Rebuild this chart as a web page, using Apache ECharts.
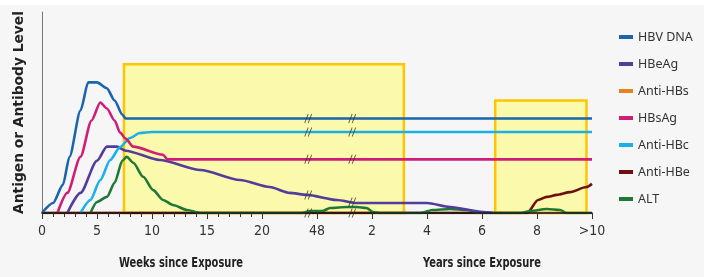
<!DOCTYPE html>
<html>
<head>
<meta charset="utf-8">
<script src="https://cdn.jsdelivr.net/npm/echarts@6/dist/echarts.min.js"></script>
<style>
  html, body { margin: 0; padding: 0; background: #f6f6f6; }
  #chart { width: 704px; height: 277px; }
</style>
</head>
<body>
<div id="chart"></div>
<script>
// x is in axis units: 0-20 = weeks, then one major step (5 units) per label
const tickLabels = ['0', '5', '10', '15', '20', '48', '2', '4', '6', '8', '>10']
const minorTicks = [1, 2, 3, 4, 6, 7, 8, 9, 11, 12, 13, 14, 16, 17, 18, 19]

// [x, level]
const hbvDna = [[0, 0], [1, 5], [1.9, 14], [2.5, 28], [3.5, 51], [4.2, 65], [5, 65], [5.9, 62], [6.6, 56], [7.3, 49], [7.6, 47], [50, 47]]
const hbeAg = [[2.3, 0], [3.5, 10], [5, 26], [5.9, 33], [6.8, 33], [7.6, 31], [10.7, 26.4], [14.4, 21.4], [18, 16.4], [20.7, 12.9], [22.5, 10], [24.1, 9], [26.8, 6.5], [28.6, 5], [35, 5], [37.1, 3], [40.1, 0.5], [41, 0]]
const antiHBs = [[0, 0], [50, 0]]
const hbsAg = [[1.4, 0], [2.3, 10], [3.5, 28], [4.5, 46], [5.3, 55], [5.9, 52], [6.6, 46], [7.1, 40], [7.6, 37], [8.3, 33], [11, 29], [11.4, 26.7], [50, 26.7]]
const antiHBc = [[3.5, 0], [4.4, 6.5], [5.3, 16.4], [6.2, 26.4], [7.1, 32.8], [8, 37.3], [8.9, 39.8], [10, 40.3], [50, 40.3]]
const antiHBe = [[0, 0], [44.1, 0], [45.1, 6.5], [45.9, 8], [46.8, 9], [48, 10.4], [49.5, 12.9], [50, 14.5]]
const alt = [[4.4, 0], [5, 5.5], [5.9, 8], [6.6, 15], [7.3, 26], [7.7, 28], [8.3, 25], [9.2, 18], [10.1, 11.4], [11, 6.5], [11.9, 4], [13.2, 1.5], [14.4, 0],
  [23.6, 0], [24.4, 1], [25.5, 1], [26.2, 2.5], [27.7, 3], [28.6, 3], [29.5, 2.5], [30.1, 0.5], [30.7, 0],
  [34.4, 0], [35.5, 1.5], [37.1, 2], [38.6, 1.5], [39.8, 0], [43.5, 0], [44.4, 1], [45.9, 2], [47.1, 1.5], [47.7, 0], [50, 0]]

// highlighted periods: [xFrom, xTo, top level]
const boxes = [[7.45, 32.9, 74], [41.2, 49.5, 56]]
// axis breaks drawn across the lines
const breakMarks = [[24.2, 47], [24.2, 40.3], [24.2, 26.7], [24.2, 9], [24.2, 0], [28.2, 47], [28.2, 40.3], [28.2, 26.7], [28.2, 5.5], [28.2, 0]]

const chart = echarts.init(document.getElementById('chart'))

function lineSeries(name, data, color) {
  return {
    name: name,
    type: 'line',
    data: data,
    showSymbol: false,
    smooth: 0.25,
    smoothMonotone: 'x',
    z: 2,
    lineStyle: { color: color, width: 2.6 },
    itemStyle: { color: color }
  }
}

const condensed = '"DejaVu Sans Condensed", "Liberation Sans", sans-serif'
const axisTitle = { fontFamily: condensed, fontWeight: 'bold', fontSize: 14.5, fill: '#222' }

chart.setOption({
  backgroundColor: '#f6f6f6',
  animation: false,
  grid: { left: 42, right: 112, top: 12, bottom: 64 },
  legend: {
    orient: 'vertical',
    left: 614,
    top: 25,
    icon: 'rect',
    itemWidth: 14,
    itemHeight: 4,
    itemGap: 13,
    textStyle: { fontFamily: 'Noto Sans', fontSize: 12.5, color: '#333', lineHeight: 14 },
    data: ['HBV DNA', 'HBeAg', 'Anti-HBs', 'HBsAg', 'Anti-HBc', 'Anti-HBe', 'ALT']
  },
  xAxis: [{
    type: 'value',
    min: 0,
    max: 50,
    interval: 5,
    z: 5,
    splitLine: { show: false },
    axisLine: { lineStyle: { color: '#1a1a1a', width: 1.5 } },
    axisTick: { length: 6, lineStyle: { color: '#333' } },
    axisLabel: {
      margin: 11,
      fontFamily: condensed,
      fontSize: 14,
      color: '#333',
      formatter: v => tickLabels[Math.round(v / 5)]
    }
  }, {
    type: 'value',
    position: 'bottom',
    min: 0,
    max: 50,
    z: 5,
    splitLine: { show: false },
    axisLine: { show: false },
    axisLabel: { show: false },
    axisTick: { length: 4, customValues: minorTicks, lineStyle: { color: '#333' } }
  }],
  yAxis: {
    type: 'value',
    min: 0,
    max: 100,
    name: 'Antigen or Antibody Level',
    nameLocation: 'middle',
    nameGap: 16,
    nameRotate: 90,
    nameTextStyle: { fontFamily: 'DejaVu Sans', fontWeight: 'bold', fontSize: 13.8, color: '#222' },
    splitLine: { show: false },
    axisLine: { show: true, lineStyle: { color: '#777', width: 1 } },
    axisTick: { show: false },
    axisLabel: { show: false }
  },
  graphic: [
    { type: 'rect', shape: { x: 0, y: 0, width: 704, height: 5 }, style: { fill: '#fff' } },
    // titles are squeezed horizontally to look like the condensed face of the original
    { type: 'text', x: 119, y: 256, scaleX: 0.76, style: Object.assign({ text: 'Weeks since Exposure' }, axisTitle) },
    { type: 'text', x: 423, y: 256, scaleX: 0.76, style: Object.assign({ text: 'Years since Exposure' }, axisTitle) }
  ],
  series: [
    lineSeries('Anti-HBs', antiHBs, '#e8821e'),
    lineSeries('Anti-HBe', antiHBe, '#6e0f10'),
    lineSeries('ALT', alt, '#1d7a35'),
    lineSeries('HBeAg', hbeAg, '#523c9c'),
    lineSeries('Anti-HBc', antiHBc, '#1ab0ea'),
    lineSeries('HBsAg', hbsAg, '#cf1d78'),
    lineSeries('HBV DNA', hbvDna, '#1a65ae'),
    {
      type: 'line',
      data: [],
      z: 3,
      markArea: {
        silent: true,
        itemStyle: { color: 'rgba(255, 252, 110, 0.55)', borderColor: '#ffc600', borderWidth: 2.5 },
        data: boxes.map(b => [{ xAxis: b[0], yAxis: 0 }, { xAxis: b[1], yAxis: b[2] }])
      }
    },
    {
      type: 'scatter',
      data: breakMarks,
      z: 4,
      silent: true,
      symbol: 'path://M0,10L4,0M4,10L8,0',
      symbolSize: [7, 9],
      itemStyle: { color: 'rgba(0,0,0,0)', borderColor: '#333', borderWidth: 1 }
    }
  ]
})
</script>
</body>
</html>
